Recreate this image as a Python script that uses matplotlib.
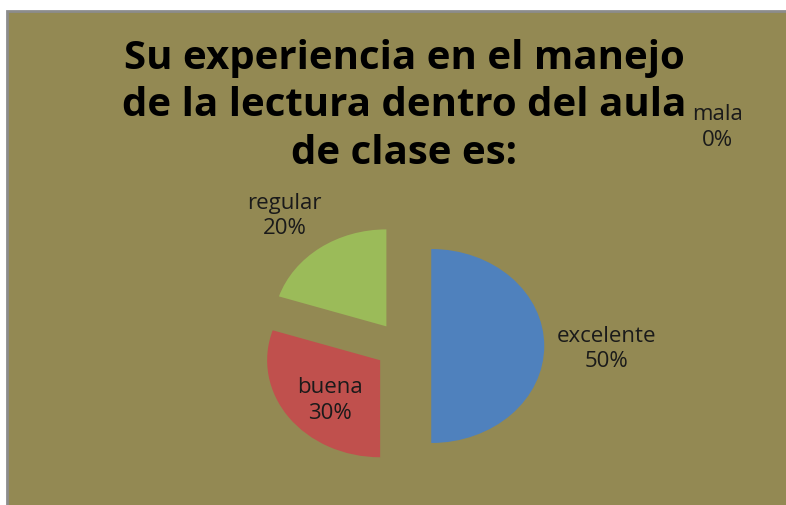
import matplotlib
matplotlib.use("Agg")
import matplotlib.pyplot as plt
from matplotlib.patches import Rectangle

categories = ["excelente", "buena", "regular", "mala"]
percentages = [50, 30, 20, 0]
colors = ["#4F81BD", "#C0504D", "#9BBB59", "#8064A2"]
title = "Su experiencia en el manejo\nde la lectura dentro del aula\nde clase es:"

W, H = 786, 506
BG = "#938953"

plt.rcParams['font.family'] = ['Open Sans', 'DejaVu Sans']

fig = plt.figure(figsize=(W / 100, H / 100), dpi=100, facecolor="white")

# chart area with a grey frame on the top and left (runs off right/bottom)
fig.add_artist(Rectangle((7 / W, -0.05), (W - 7) / W + 0.1, (H - 12) / H + 0.05,
                         transform=fig.transFigure, facecolor=BG,
                         edgecolor="#8c8c8c", linewidth=2.0, zorder=-1))

fig.text(404 / W, 1 - 106 / H, title, ha="center", va="center",
         fontsize=29, fontweight="bold", color="black", linespacing=1.28)

# pie: radius 1 -> 113 px wide, 97 px tall
rx, ry = 113, 97
cx, cy = 403, 347
lim = 1.4
ax = fig.add_axes([(cx - lim * rx) / W, (H - cy - lim * ry) / H,
                   2 * lim * rx / W, 2 * lim * ry / H])
ax.set_zorder(2)
ax.pie(percentages, colors=colors, startangle=90, counterclock=False,
       explode=[0.25, 0.25, 0.25, 0.25], wedgeprops=dict(linewidth=0))
ax.set_aspect("auto")
ax.set_xlim(-lim, lim)
ax.set_ylim(-lim, lim)
ax.axis("off")

label_pos = [(1.80, -0.02), (-0.65, -0.55), (-1.05, 1.35), (2.78, 2.26)]
for name, pct, (lx, ly) in zip(categories, percentages, label_pos):
    ax.text(lx, ly, f"{name}\n{pct}%", ha="center", va="center",
            fontsize=16, color="#1a1a1a", linespacing=1.3, clip_on=False)

fig.savefig("out.png", dpi=100, facecolor="white")
